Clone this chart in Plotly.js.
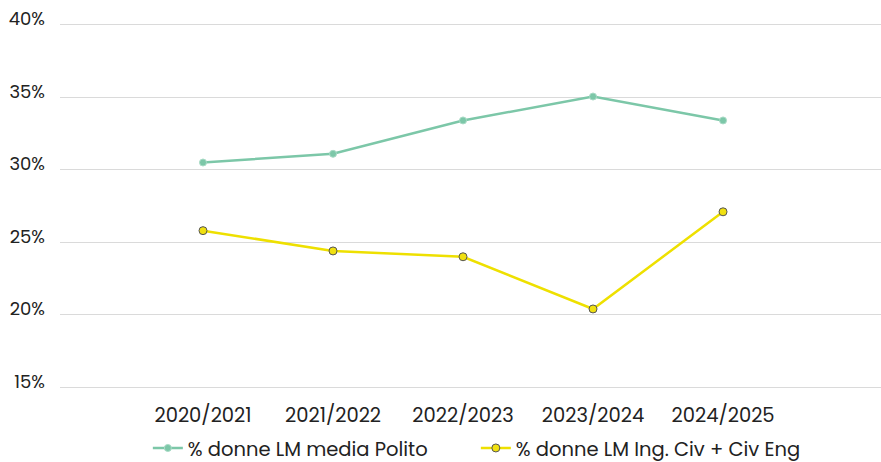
<!DOCTYPE html>
<html><head><meta charset="utf-8">
<script src="https://cdn.plot.ly/plotly-3.0.1.min.js"></script>
<style>html,body{margin:0;padding:0;background:#fff}#chart{width:881px;height:462px}</style>
</head><body><div id="chart"></div>
<script>
const categories = ["2020/2021","2021/2022","2022/2023","2023/2024","2024/2025"];
const politoValues = [0.305, 0.311, 0.334, 0.3505, 0.334];
const civValues = [0.258, 0.244, 0.240, 0.204, 0.271];
const seriesNames = ["% donne LM media Polito", "% donne LM Ing. Civ + Civ Eng"];
const yTicks = [0.15,0.20,0.25,0.30,0.35,0.40];
const yTickLabels = ["15%","20%","25%","30%","35%","40%"];

const font = "Poppins, Inter, 'Noto Sans', sans-serif";
const traces = [
  {x: categories, y: politoValues, name: seriesNames[0], type: "scatter", mode: "lines+markers",
   line: {color: "#7cc7a8", width: 2.5},
   marker: {color: "#7cc7a8", size: 7, line: {color: "#a9dbc6", width: 1}}},
  {x: categories, y: civValues, name: seriesNames[1], type: "scatter", mode: "lines+markers",
   line: {color: "#eee000", width: 2.5},
   marker: {color: "#f0e010", size: 8, line: {color: "#555555", width: 1}}}
];
const layout = {
  width: 881, height: 462,
  margin: {l: 60, r: 0, t: 23, b: 73, autoexpand: false},
  paper_bgcolor: "#fff", plot_bgcolor: "#fff",
  font: {family: font, color: "#222", size: 18},
  showlegend: true,
  legend: {orientation: "h", x: 0.107, xanchor: "left", y: -0.162, yanchor: "middle",
           font: {size: 19.5, family: font, color: "#222"}, entrywidth: 283, entrywidthmode: "pixels",
           tracegroupgap: 0},
  xaxis: {type: "category", range: [-1.1, 5.215], showgrid: false, zeroline: false,
          showline: false, ticks: "", tickfont: {size: 19.5}, ticklabelstandoff: 12},
  yaxis: {range: [0.1488, 0.4012], tickvals: yTicks, ticktext: yTickLabels, showgrid: true,
          gridcolor: "#dadada", gridwidth: 1, zeroline: false, showline: false, ticks: "",
          tickfont: {size: 18}, ticklabelstandoff: 14, ticklabelshift: -6}
};
Plotly.newPlot("chart", traces, layout, {displayModeBar: false, staticPlot: true});
</script></body></html>
